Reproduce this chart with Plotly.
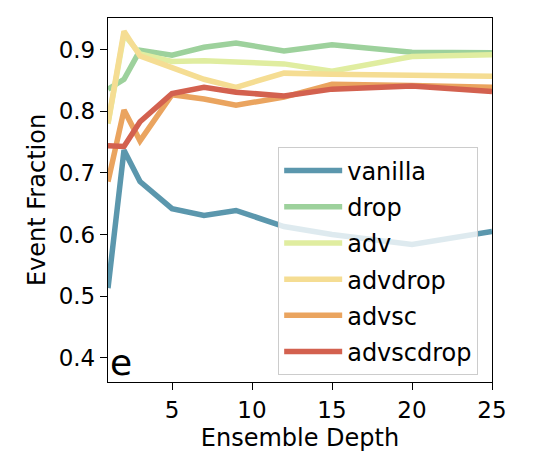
import plotly.graph_objects as go

depth = [1, 2, 3, 5, 7, 9, 12, 15, 20, 25]
vanilla = [0.513, 0.737, 0.686, 0.642, 0.631, 0.639, 0.613, 0.600, 0.584, 0.605]
drop = [0.836, 0.852, 0.899, 0.891, 0.904, 0.911, 0.898, 0.908, 0.896, 0.895]
adv = [0.780, 0.925, 0.893, 0.881, 0.882, 0.880, 0.877, 0.865, 0.889, 0.892]
advdrop = [0.781, 0.930, 0.890, 0.870, 0.852, 0.839, 0.862, 0.860, 0.859, 0.857]
advsc = [0.686, 0.802, 0.752, 0.827, 0.820, 0.810, 0.823, 0.844, 0.842, 0.839]
advscdrop = [0.744, 0.743, 0.783, 0.829, 0.839, 0.831, 0.825, 0.836, 0.841, 0.832]

names = ["vanilla", "drop", "adv", "advdrop", "advsc", "advscdrop"]
series = [vanilla, drop, adv, advdrop, advsc, advscdrop]
colors = ["#5b97ad", "#9dd19c", "#e0eda0", "#f5dd93", "#eaa45f", "#d3614f"]

fig = go.Figure()
for n, s, c in zip(names, series, colors):
    fig.add_trace(go.Scatter(x=depth, y=s, mode="lines", name=n, legendgroup=n,
                             line=dict(color=c, width=5.5)))

tickfont = dict(family="DejaVu Sans", size=23, color="black")
titlefont = dict(family="DejaVu Sans", size=24, color="black")
fig.update_layout(
    width=533, height=459,
    margin=dict(l=108, r=41, t=18, b=66),
    paper_bgcolor="white", plot_bgcolor="white",
    font=tickfont,
    showlegend=True,
    legend=dict(x=0.964, y=0.018, xanchor="right", yanchor="bottom",
                bgcolor="rgba(255,255,255,0.8)", bordercolor="#cccccc", borderwidth=1,
                font=dict(family="DejaVu Sans", size=24, color="black"),
                tracegroupgap=2, traceorder="grouped", itemwidth=58),
    xaxis=dict(range=[1, 25], tickvals=[5, 10, 15, 20, 25], showgrid=False, zeroline=False,
               showline=True, linecolor="black", linewidth=1.3, mirror=True,
               ticks="outside", ticklen=7, tickcolor="black", tickwidth=1.3,
               title=dict(text="Ensemble Depth", font=titlefont, standoff=7),
               tickfont=tickfont),
    yaxis=dict(range=[0.3606, 0.9515], tickvals=[0.4, 0.5, 0.6, 0.7, 0.8, 0.9],
               ticktext=["0.4", "0.5", "0.6", "0.7", "0.8", "0.9"],
               showgrid=False, zeroline=False,
               showline=True, linecolor="black", linewidth=1.3, mirror=True,
               ticks="outside", ticklen=7, tickcolor="black", tickwidth=1.3,
               title=dict(text="Event Fraction", font=titlefont, standoff=6),
               tickfont=tickfont),
)
fig.add_annotation(text="e", xref="paper", yref="paper", x=0.0, y=0.0,
                   xanchor="left", yanchor="bottom", showarrow=False,
                   font=dict(family="DejaVu Sans", size=36, color="black"),
                   xshift=0, yshift=-3)
fig.write_html("out.html")
